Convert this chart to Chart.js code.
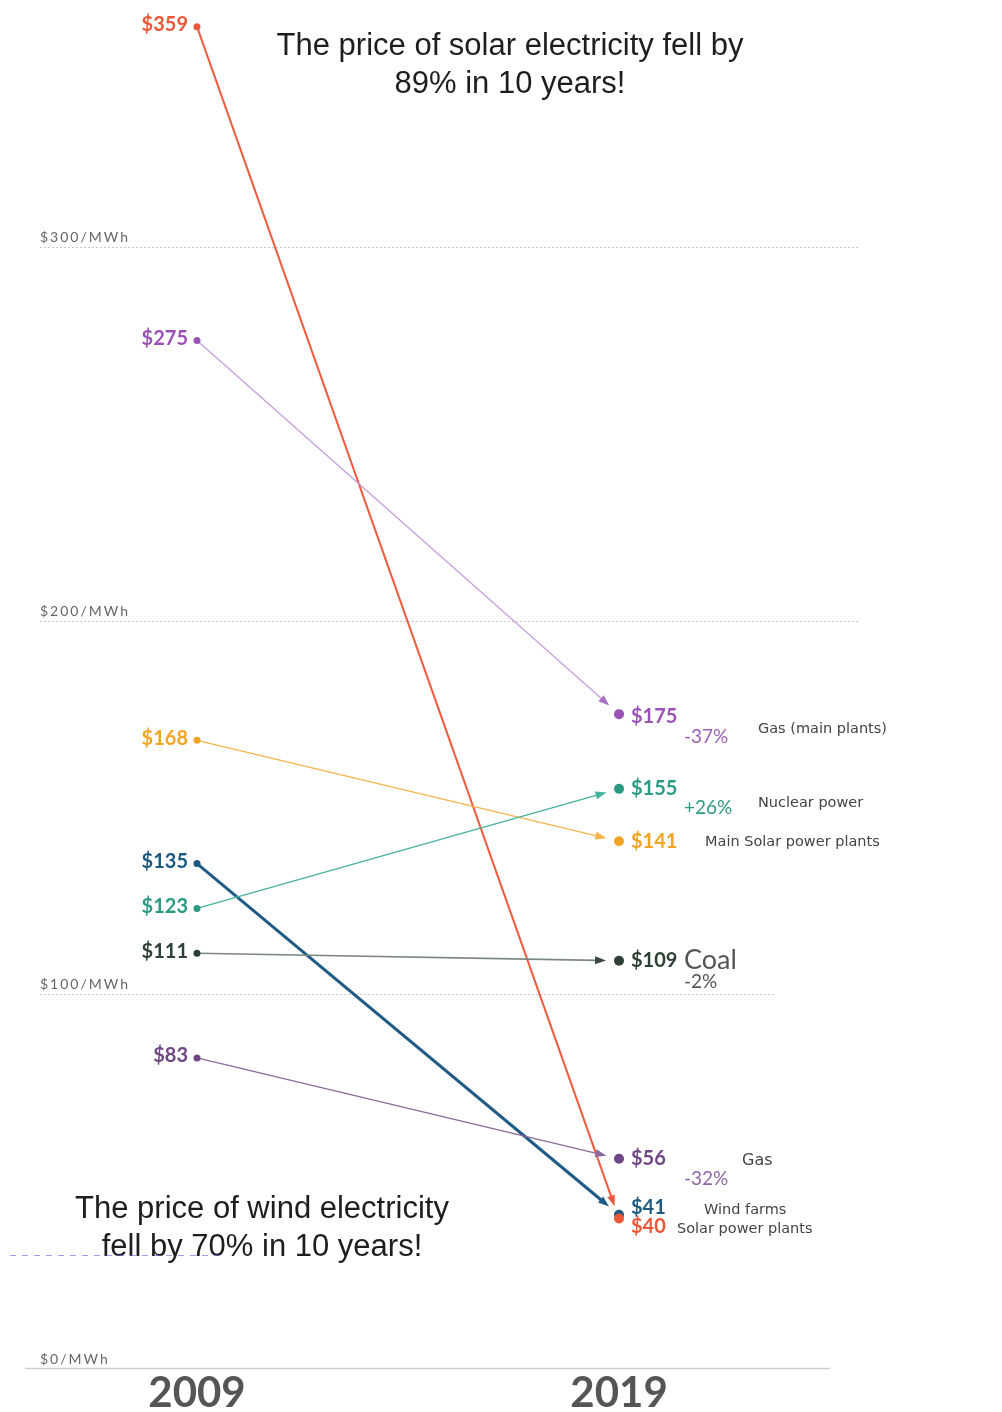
<!DOCTYPE html>
<html>
<head>
<meta charset="utf-8">
<script src="https://cdn.jsdelivr.net/npm/chart.js@4.4.1/dist/chart.umd.min.js"></script>
<style>
  html, body { margin: 0; padding: 0; background: #fff; }
  #wrap { width: 1002px; height: 1412px; position: relative; }
</style>
</head>
<body>
<div id="wrap"><canvas id="slope" width="1002" height="1412"></canvas></div>
<script>
// ── Data ──
const years = [2009, 2019];
const sources = ['Solar power plants', 'Gas (main plants)', 'Main Solar power plants', 'Wind farms', 'Nuclear power', 'Coal', 'Gas'];
const price2009 = [359, 275, 168, 135, 123, 111, 83];
const price2019 = [40, 175, 141, 41, 155, 109, 56];
const changeText = ['', '-37%', '', '', '+26%', '-2%', '-32%'];
const gridValues = [300, 200, 100];
const gridLabels = ['$300/MWh', '$200/MWh', '$100/MWh'];
const baseLabel = '$0/MWh';
const solarNote = ['The price of solar electricity fell by', '89% in 10 years!'];
const windNote = ['The price of wind electricity', 'fell by 70% in 10 years!'];

// ── Styles per series ──
const dotColor  = ['#ee5638', '#9b52b6', '#f4a425', '#1d5a82', '#2b9a84', '#2c4034', '#6f4784'];
const lineColor = ['#ef5b3e', '#c79fda', '#f6b44a', '#1e5b86', '#45b39d', '#7b8880', '#8b6b9c'];
const lineWidth = [2, 1.3, 1.3, 3, 1.3, 1.6, 1.3];
// label placement right of the 2019 dots
const nameX   = [677, 758, 705, 704, 758, 684, 742];
const nameDy  = [11, 15, 1, -5, 14, 0, 2];
const valueDy = [8, 2, 0, -7, 0, 0, 0];
const smallFont = '14.5px "DejaVu Sans"';
const nameFont = [smallFont, smallFont, smallFont, smallFont, smallFont, '27px Lato', '16px "DejaVu Sans"'];
const changeDy = [0, 23, 0, 0, 19, 21, 20];

const slopePlugin = {
  id: 'slopeDecor',
  beforeDatasetsDraw(chart) {
    const { ctx, scales: { x, y } } = chart;
    ctx.save();
    // dotted reference lines with labels above them
    const gridEnd = [860, 860, 775];
    gridValues.forEach((v, i) => {
      const py = Math.round(y.getPixelForValue(v)) + 0.5;
      ctx.strokeStyle = '#c8c8c8';
      ctx.lineWidth = 1;
      ctx.setLineDash([2, 2]);
      ctx.beginPath();
      ctx.moveTo(40, py);
      ctx.lineTo(gridEnd[i], py);
      ctx.stroke();
      ctx.setLineDash([]);
      ctx.fillStyle = '#666';
      ctx.font = '14px Lato';
      ctx.letterSpacing = '2px';
      ctx.textBaseline = 'alphabetic';
      ctx.textAlign = 'left';
      ctx.fillText(gridLabels[i], 40, py - 6);
    });
    // solid baseline
    const p0 = Math.round(y.getPixelForValue(0)) + 0.5;
    ctx.strokeStyle = '#cfcfcf';
    ctx.lineWidth = 1.5;
    ctx.beginPath();
    ctx.moveTo(25, p0);
    ctx.lineTo(830, p0);
    ctx.stroke();
    ctx.fillStyle = '#666';
    ctx.fillText(baseLabel, 40, p0 - 5);
    ctx.letterSpacing = '0px';

    // slope lines, shortened before the 2019 dot, with arrowheads
    chart.data.datasets.forEach((ds, i) => {
      const pts = chart.getDatasetMeta(i).data;
      const a = pts[0], b = pts[1];
      const dx = b.x - a.x, dy = b.y - a.y;
      const len = Math.hypot(dx, dy);
      const ux = dx / len, uy = dy / len;
      const tipX = b.x - ux * 13, tipY = b.y - uy * 13;
      const headLen = 11, headW = 4;
      const baseX = tipX - ux * headLen, baseY = tipY - uy * headLen;
      ctx.strokeStyle = lineColor[i];
      ctx.lineWidth = lineWidth[i];
      ctx.beginPath();
      ctx.moveTo(a.x, a.y);
      ctx.lineTo(baseX + ux * 2, baseY + uy * 2);
      ctx.stroke();
      ctx.fillStyle = i === 5 ? '#3a4a40' : lineColor[i];
      if (i === 1) ctx.fillStyle = '#a870c2';
      ctx.beginPath();
      ctx.moveTo(tipX, tipY);
      ctx.lineTo(baseX - uy * headW, baseY + ux * headW);
      ctx.lineTo(baseX + uy * headW, baseY - ux * headW);
      ctx.closePath();
      ctx.fill();
    });
    ctx.restore();
  },
  afterDatasetsDraw(chart) {
    const { ctx, scales: { x, y } } = chart;
    ctx.save();
    chart.data.datasets.forEach((ds, i) => {
      const pts = chart.getDatasetMeta(i).data;
      const a = pts[0], b = pts[1];
      ctx.fillStyle = dotColor[i];
      ctx.font = 'bold 20px Lato';
      ctx.textBaseline = 'middle';
      // 2009 value
      ctx.textAlign = 'right';
      ctx.fillText('$' + price2009[i], a.x - 9, a.y - 2);
      // 2019 value
      ctx.textAlign = 'left';
      ctx.fillText('$' + price2019[i], b.x + 12, b.y + valueDy[i]);
      // change text
      if (changeText[i]) {
        ctx.font = '19px Lato';
        ctx.fillStyle = i === 5 ? '#555' : dotColor[i];
        if (i === 1) ctx.fillStyle = '#a060bd';
        if (i === 6) ctx.fillStyle = '#8f66a3';
        ctx.fillText(changeText[i], 684, b.y + changeDy[i]);
      }
      // source name
      ctx.font = nameFont[i];
      ctx.fillStyle = i === 5 ? '#555' : '#444';
      ctx.fillText(sources[i], nameX[i], b.y + nameDy[i]);
    });

    // notes
    ctx.fillStyle = '#1e1e1e';
    ctx.font = '31px "Liberation Sans"';
    ctx.textAlign = 'center';
    ctx.textBaseline = 'middle';
    ctx.fillText(solarNote[0], 510, 46);
    ctx.fillText(solarNote[1], 510, 84);
    ctx.fillText(windNote[0], 262, 1209);
    ctx.fillText(windNote[1], 262, 1247);
    // faint dashed underline beside the wind note
    ctx.strokeStyle = 'rgba(90,100,235,0.6)';
    ctx.lineWidth = 1;
    ctx.setLineDash([6, 6]);
    ctx.beginPath();
    ctx.moveTo(10, 1255.5);
    ctx.lineTo(225, 1255.5);
    ctx.stroke();
    ctx.setLineDash([]);

    // year labels
    ctx.fillStyle = '#555';
    ctx.font = 'bold 42px Lato';
    ctx.textBaseline = 'middle';
    years.forEach(yr => ctx.fillText(String(yr), x.getPixelForValue(yr), 1393));
    ctx.restore();
  }
};

const datasets = sources.map((name, i) => ({
  label: name,
  data: [{ x: years[0], y: price2009[i] }, { x: years[1], y: price2019[i] }],
  showLine: false,
  pointRadius: [3.5, 5],
  pointBackgroundColor: dotColor[i],
  pointBorderWidth: 0
}));

new Chart(document.getElementById('slope'), {
  type: 'line',
  data: { datasets },
  options: {
    responsive: false,
    animation: false,
    events: [],
    layout: { padding: { left: 40, right: 142, top: 0, bottom: 44 } },
    plugins: { legend: { display: false }, tooltip: { enabled: false } },
    scales: {
      x: { type: 'linear', display: false, min: 2005.28, max: 2024.71 },
      y: { type: 'linear', display: false, min: 0, max: 364.8 }
    }
  },
  plugins: [slopePlugin]
});
</script>
</body>
</html>
